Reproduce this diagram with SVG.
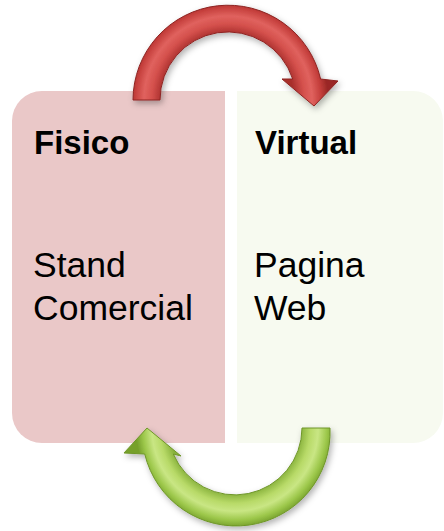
<svg xmlns="http://www.w3.org/2000/svg" width="444" height="531" viewBox="0 0 444 531">
<defs>
<style>
.head{font-family:"Liberation Sans",Arial,sans-serif;font-weight:bold;font-size:33px;fill:#000}
.body{font-family:"Liberation Sans",Arial,sans-serif;font-size:35.5px;fill:#000}
</style>
<radialGradient id="gRed" gradientUnits="userSpaceOnUse" cx="228" cy="100" r="100">
<stop offset="0.66" stop-color="#A82E2C"/>
<stop offset="0.76" stop-color="#D4504C"/>
<stop offset="0.84" stop-color="#E0625E"/>
<stop offset="0.93" stop-color="#C43E3B"/>
<stop offset="1" stop-color="#9A2826"/>
</radialGradient>
<radialGradient id="gGreen" gradientUnits="userSpaceOnUse" cx="235" cy="428" r="99">
<stop offset="0.66" stop-color="#86B03A"/>
<stop offset="0.76" stop-color="#B8DA68"/>
<stop offset="0.84" stop-color="#C9E684"/>
<stop offset="0.93" stop-color="#9CC74A"/>
<stop offset="1" stop-color="#76A02C"/>
</radialGradient>
<filter id="sh" x="-20%" y="-20%" width="140%" height="140%">
<feDropShadow dx="2" dy="3" stdDeviation="3" flood-color="#000" flood-opacity="0.3"/>
</filter>
</defs>
<g id="fisico">
<path d="M42,91 H225 V443 H42 A30,30 0 0 1 12,413 V121 A30,30 0 0 1 42,91 Z" fill="#EAC8C8"/>
<text class="head" x="34" y="154">Fisico</text>
<text class="body" x="33" y="277">Stand</text>
<text class="body" x="33" y="320">Comercial</text>
</g>
<g id="virtual">
<path d="M237,91 H413 A30,30 0 0 1 443,121 V413 A30,30 0 0 1 413,443 H237 Z" fill="#F7FAF0"/>
<text class="head" x="255" y="154">Virtual</text>
<text class="body" x="254" y="277">Pagina</text>
<text class="body" x="254" y="320">Web</text>
</g>
<g id="connectors">
<path d="M133,100 A95,95 0 0 1 320.6,79 L338,81 L314,106 L282,79 L292.7,79 A68,68 0 0 0 160,100 Z" fill="url(#gRed)" stroke="#8E2422" stroke-width="1" filter="url(#sh)"/>
<path d="M330,428 A94,94 0 0 1 144.7,454 L124,453 L147,428 L181,456 L173.3,454 A67,67 0 0 0 302,428 Z" fill="url(#gGreen)" stroke="#6E9628" stroke-width="1" filter="url(#sh)"/>
</g>
</svg>
